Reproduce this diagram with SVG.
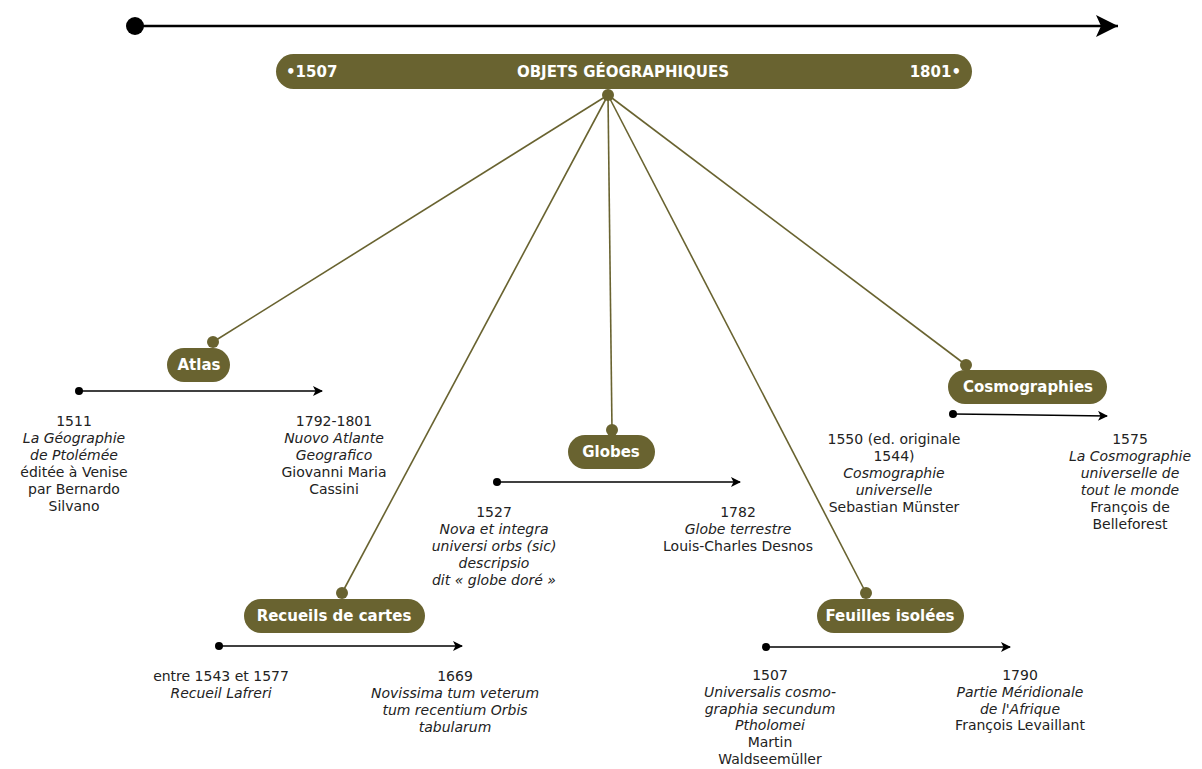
<svg xmlns="http://www.w3.org/2000/svg" width="1202" height="769" viewBox="0 0 1202 769">
<defs>
<marker id="ah" markerWidth="10" markerHeight="10" refX="9" refY="5" orient="auto" markerUnits="userSpaceOnUse"><path d="M0,0 L10,5 L0,10 L2.5,5 Z" fill="#000"/></marker>
<marker id="ahb" markerWidth="24" markerHeight="24" refX="22" refY="12" orient="auto" markerUnits="userSpaceOnUse"><path d="M0,1 L22,12 L0,23 L5,12 Z" fill="#000"/></marker>
<style>
.pill{fill:#696330}
.hd{font-family:"DejaVu Sans","Liberation Sans",sans-serif;font-weight:bold;fill:#fff;font-size:15px}
.t{font-family:"DejaVu Sans","Liberation Sans",sans-serif;font-size:14px;fill:#222;text-anchor:middle}
.i{font-style:italic}
.tl{stroke:#000;stroke-width:1.5;fill:none}
.con{stroke:#696330;stroke-width:1.6;fill:none}
.d{fill:#696330}
</style>
</defs>
<rect width="1202" height="769" fill="#fff"/>
<g id="top-axis">
<line x1="135" y1="26" x2="1118" y2="26" stroke="#000" stroke-width="2.5" marker-end="url(#ahb)"/>
<circle cx="135" cy="26" r="9" fill="#000"/>
</g>
<g id="connectors">
<line class="con" x1="608" y1="95" x2="213" y2="342"/>
<line class="con" x1="608" y1="95" x2="342" y2="593"/>
<line class="con" x1="608" y1="95" x2="612" y2="430"/>
<line class="con" x1="608" y1="95" x2="866" y2="593"/>
<line class="con" x1="608" y1="95" x2="966" y2="365"/>
</g>
<g id="main">
<rect class="pill" x="276" y="54" width="696" height="35" rx="17.5"/>
<text class="hd" x="286" y="77">•1507</text>
<text class="hd" x="623" y="77" text-anchor="middle" font-size="13">OBJETS GÉOGRAPHIQUES</text>
<text class="hd" x="961" y="77" text-anchor="end">1801•</text>
<circle class="d" cx="608" cy="95" r="6"/>
</g>
<g id="atlas">
<circle class="d" cx="213" cy="342" r="6"/>
<rect class="pill" x="167" y="348" width="63" height="34" rx="17"/>
<text class="hd" x="199" y="370" text-anchor="middle">Atlas</text>
<line class="tl" x1="79" y1="391" x2="322" y2="391" marker-end="url(#ah)"/>
<circle cx="79" cy="391" r="4" fill="#000"/>
<text class="t" x="74" y="426">1511<tspan class="i" x="74" dy="17">La Géographie</tspan><tspan class="i" x="74" dy="17">de Ptolémée</tspan><tspan x="74" dy="17">éditée à Venise</tspan><tspan x="74" dy="17">par Bernardo</tspan><tspan x="74" dy="17">Silvano</tspan></text>
<text class="t" x="334" y="426">1792-1801<tspan class="i" x="334" dy="17">Nuovo Atlante</tspan><tspan class="i" x="334" dy="17">Geografico</tspan><tspan x="334" dy="17">Giovanni Maria</tspan><tspan x="334" dy="17">Cassini</tspan></text>
</g>
<g id="globes">
<circle class="d" cx="612" cy="430" r="6"/>
<rect class="pill" x="568" y="435" width="87" height="34" rx="17"/>
<text class="hd" x="611" y="457" text-anchor="middle">Globes</text>
<line class="tl" x1="497" y1="482" x2="740" y2="482" marker-end="url(#ah)"/>
<circle cx="497" cy="482" r="4" fill="#000"/>
<text class="t" x="494" y="517">1527<tspan class="i" x="494" dy="17">Nova et integra</tspan><tspan class="i" x="494" dy="17">universi orbs (sic)</tspan><tspan class="i" x="494" dy="17">descripsio</tspan><tspan class="i" x="494" dy="17">dit « globe doré »</tspan></text>
<text class="t" x="738" y="517">1782<tspan class="i" x="738" dy="17">Globe terrestre</tspan><tspan x="738" dy="17">Louis-Charles Desnos</tspan></text>
</g>
<g id="cosmographies">
<circle class="d" cx="966" cy="365" r="6"/>
<rect class="pill" x="948" y="370" width="159" height="34" rx="17"/>
<text class="hd" x="1028" y="392" text-anchor="middle">Cosmographies</text>
<line class="tl" x1="953" y1="414" x2="1107" y2="416" marker-end="url(#ah)"/>
<circle cx="953" cy="414" r="4" fill="#000"/>
<text class="t" x="894" y="444">1550 (ed. originale<tspan x="894" dy="17">1544)</tspan><tspan class="i" x="894" dy="17">Cosmographie</tspan><tspan class="i" x="894" dy="17">universelle</tspan><tspan x="894" dy="17">Sebastian Münster</tspan></text>
<text class="t" x="1130" y="444">1575<tspan class="i" x="1130" dy="17">La Cosmographie</tspan><tspan class="i" x="1130" dy="17">universelle de</tspan><tspan class="i" x="1130" dy="17">tout le monde</tspan><tspan x="1130" dy="17">François de</tspan><tspan x="1130" dy="17">Belleforest</tspan></text>
</g>
<g id="recueils">
<circle class="d" cx="342" cy="593" r="6"/>
<rect class="pill" x="244" y="599" width="181" height="34" rx="17"/>
<text class="hd" x="334" y="621" text-anchor="middle">Recueils de cartes</text>
<line class="tl" x1="219" y1="646" x2="462" y2="646" marker-end="url(#ah)"/>
<circle cx="219" cy="646" r="4" fill="#000"/>
<text class="t" x="221" y="681">entre 1543 et 1577<tspan class="i" x="221" dy="17">Recueil Lafreri</tspan></text>
<text class="t" x="455" y="681">1669<tspan class="i" x="455" dy="17">Novissima tum veterum</tspan><tspan class="i" x="455" dy="17">tum recentium Orbis</tspan><tspan class="i" x="455" dy="17">tabularum</tspan></text>
</g>
<g id="feuilles">
<circle class="d" cx="866" cy="593" r="6"/>
<rect class="pill" x="817" y="599" width="147" height="34" rx="17"/>
<text class="hd" x="890" y="621" text-anchor="middle">Feuilles isolées</text>
<line class="tl" x1="766" y1="647" x2="1010" y2="647" marker-end="url(#ah)"/>
<circle cx="766" cy="647" r="4" fill="#000"/>
<text class="t" x="770" y="680">1507<tspan class="i" x="770" dy="16.8">Universalis cosmo-</tspan><tspan class="i" x="770" dy="16.8">graphia secundum</tspan><tspan class="i" x="770" dy="16.8">Ptholomei</tspan><tspan x="770" dy="16.8">Martin</tspan><tspan x="770" dy="16.8">Waldseemüller</tspan></text>
<text class="t" x="1020" y="680">1790<tspan class="i" x="1020" dy="16.8">Partie Méridionale</tspan><tspan class="i" x="1020" dy="16.8">de l'Afrique</tspan><tspan x="1020" dy="16.8">François Levaillant</tspan></text>
</g>
</svg>
